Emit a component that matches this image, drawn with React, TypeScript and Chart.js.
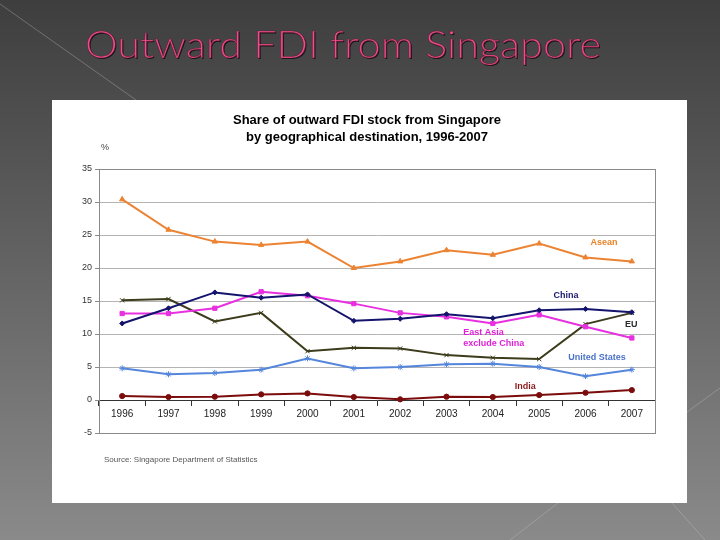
import { useEffect, useRef } from 'react'
import Chart from 'chart.js/auto'

const years = ['1996', '1997', '1998', '1999', '2000', '2001', '2002', '2003', '2004', '2005', '2006', '2007']
const asean = [30.4, 25.8, 24.0, 23.5, 24.0, 20.0, 21.0, 22.7, 22.0, 23.7, 21.6, 21.0]
const china = [11.6, 13.9, 16.3, 15.5, 16.0, 12.0, 12.3, 13.0, 12.4, 13.6, 13.8, 13.3]
const eastAsia = [13.1, 13.1, 13.9, 16.4, 15.8, 14.6, 13.2, 12.6, 11.6, 12.9, 11.1, 9.4]
const eu = [15.1, 15.3, 11.9, 13.2, 7.4, 7.9, 7.8, 6.8, 6.4, 6.2, 11.5, 13.2]
const unitedStates = [4.8, 3.9, 4.1, 4.6, 6.3, 4.8, 5.0, 5.4, 5.5, 5.0, 3.6, 4.6]
const india = [0.6, 0.45, 0.5, 0.85, 1.0, 0.45, 0.1, 0.5, 0.45, 0.75, 1.1, 1.5]

// series labels placed in data space (category index, value)
const seriesLabels = [
  { lines: ['Asean'], at: [10.4, 23.8], color: '#e8842a', align: 'center' },
  { lines: ['China'], at: [9.58, 15.9], color: '#1a1a6e', align: 'center' },
  { lines: ['EU'], at: [10.99, 11.4], color: '#2a2a2a', align: 'center' },
  { lines: ['East Asia', 'exclude China'], at: [7.36, 10.15], color: '#e020d8', align: 'left' },
  { lines: ['United States'], at: [10.25, 6.5], color: '#4a72c8', align: 'center' },
  { lines: ['India'], at: [8.7, 2.1], color: '#8b1a1a', align: 'center' },
]

const slide = {
  id: 'slide',
  beforeDraw(chart: any) {
    const { ctx, width, height } = chart
    ctx.save()
    const bg = ctx.createLinearGradient(0, 0, 0, height)
    bg.addColorStop(0, '#3e3e3e')
    bg.addColorStop(1, '#8a8a8a')
    ctx.fillStyle = bg
    ctx.fillRect(0, 0, width, height)

    ctx.strokeStyle = 'rgba(200,200,200,0.35)'
    ctx.lineWidth = 1
    const lines = [
      [0, 4, 136, 100],
      [687, 412, 720, 388],
      [510, 540, 558, 503],
      [672, 503, 705, 540],
    ]
    for (const [x1, y1, x2, y2] of lines) {
      ctx.beginPath()
      ctx.moveTo(x1, y1)
      ctx.lineTo(x2, y2)
      ctx.stroke()
    }

    // slide title
    ctx.font = '300 37px Lato, "DejaVu Sans", sans-serif'
    ctx.textBaseline = 'alphabetic'
    const title = 'Outward FDI from Singapore'
    const w = ctx.measureText(title).width
    ctx.translate(85, 58)
    ctx.scale(516 / w, 1)
    ctx.shadowColor = 'rgba(0,0,0,0.7)'
    ctx.shadowOffsetX = 1
    ctx.shadowOffsetY = 1
    ctx.fillStyle = '#ee4f8b'
    ctx.fillText(title, 0, 0)
    ctx.shadowColor = 'transparent'
    ctx.strokeStyle = 'rgba(90,20,45,0.7)'
    ctx.lineWidth = 0.6
    ctx.strokeText(title, 0, 0)
    ctx.setTransform(1, 0, 0, 1, 0, 0)

    // white panel
    ctx.fillStyle = '#ffffff'
    ctx.fillRect(52, 100, 635, 403)

    ctx.fillStyle = '#000000'
    ctx.font = 'bold 13px "Liberation Sans", Arial, sans-serif'
    ctx.textAlign = 'center'
    ctx.textBaseline = 'middle'
    ctx.fillText('Share of outward FDI stock from Singapore', 367, 120)
    ctx.fillText('by geographical destination, 1996-2007', 367, 137)

    ctx.fillStyle = '#444444'
    ctx.font = '9px "Liberation Sans", Arial, sans-serif'
    ctx.textAlign = 'left'
    ctx.fillText('%', 101, 148)
    ctx.font = '8px "Liberation Sans", Arial, sans-serif'
    ctx.fillStyle = '#555555'
    ctx.fillText('Source: Singapore Department of Statistics', 104, 460)
    ctx.restore()
  },
  beforeDatasetsDraw(chart: any) {
    const { ctx, chartArea } = chart
    ctx.save()
    ctx.strokeStyle = '#8a8a8a'
    ctx.lineWidth = 1
    ctx.strokeRect(chartArea.left + 0.5, chartArea.top + 0.5, chartArea.right - chartArea.left, chartArea.bottom - chartArea.top)
    ctx.restore()
  },
  afterDatasetsDraw(chart: any) {
    const { ctx, scales } = chart
    ctx.save()
    ctx.font = 'bold 9px "Liberation Sans", Arial, sans-serif'
    ctx.textBaseline = 'middle'
    for (const label of seriesLabels) {
      const x = scales.x.getPixelForValue(label.at[0])
      const y = scales.y.getPixelForValue(label.at[1])
      ctx.fillStyle = label.color
      ctx.textAlign = label.align
      label.lines.forEach((line, i) => ctx.fillText(line, x, y + i * 11))
    }
    ctx.restore()
  },
}

const series = (label: string, data: number[], color: string, pointStyle: string, radius: number) => ({
  label,
  data,
  borderColor: color,
  backgroundColor: color,
  borderWidth: 2,
  pointStyle,
  pointRadius: radius,
  pointBorderWidth: 1,
  tension: 0,
})

export default function App() {
  const canvasRef = useRef<HTMLCanvasElement | null>(null)
  const chartRef = useRef<Chart | null>(null)

  useEffect(() => {
    if (!canvasRef.current) return

    chartRef.current = new Chart(canvasRef.current, {
      type: 'line',
      data: {
        labels: years,
        datasets: [
          series('Asean', asean, '#ec8332', 'triangle', 3),
          series('China', china, '#14146e', 'rectRot', 2.5),
          series('East Asia exclude China', eastAsia, '#e830e0', 'rect', 3),
          series('EU', eu, '#3c3c1c', 'crossRot', 3),
          series('United States', unitedStates, '#5586dc', 'star', 3),
          series('India', india, '#7c0c0c', 'circle', 2.6),
        ],
      },
      options: {
        responsive: false,
        animation: false,
        devicePixelRatio: 1,
        layout: { padding: { left: 52, top: 169, right: 65, bottom: 107 } },
        plugins: {
          legend: { display: false },
          tooltip: { enabled: false },
        },
        scales: {
          x: {
            position: { y: 0 },
            offset: true,
            grid: {
              offset: true,
              drawOnChartArea: false,
              drawTicks: true,
              tickLength: 5,
              color: '#333333',
            },
            border: { display: true, color: '#333333', width: 1 },
            ticks: {
              color: '#222222',
              padding: 3,
              maxRotation: 0,
              font: { family: '"Liberation Sans", Arial, sans-serif', size: 10 },
            },
          },
          y: {
            min: -5,
            max: 35,
            afterFit: (scale: any) => {
              scale.width = 47
            },
            grid: {
              color: (c: any) => (c.tick && c.tick.value === -5 ? 'rgba(0,0,0,0)' : '#b4b4b4'),
              tickLength: 4,
              tickColor: '#8a8a8a',
            },
            border: { display: true, color: '#8a8a8a' },
            ticks: {
              stepSize: 5,
              color: '#333333',
              padding: 3,
              font: { family: '"Liberation Sans", Arial, sans-serif', size: 9 },
            },
          },
        },
      },
      plugins: [slide],
    })

    return () => {
      if (chartRef.current) {
        chartRef.current.destroy()
        chartRef.current = null
      }
    }
  }, [])

  return (
    <div style={{ position: 'fixed', left: 0, top: 0, width: 720, height: 540 }}>
      <canvas ref={canvasRef} width={720} height={540} />
    </div>
  )
}
